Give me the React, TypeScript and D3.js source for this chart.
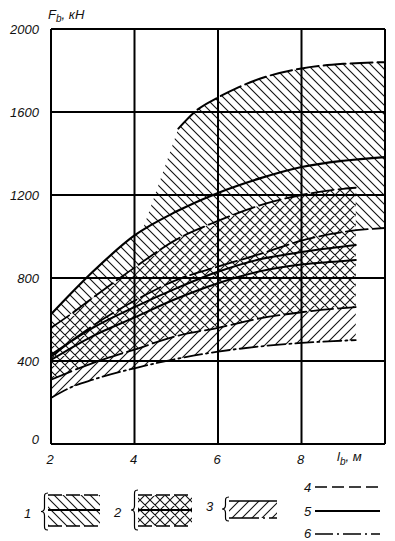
import * as d3 from "d3";

type P = [number, number];

// axis ticks
const xTicks = [2, 4, 6, 8, 10];
const xTickLabels = ["2", "4", "6", "8", ""];
const yTicks = [0, 400, 800, 1200, 1600, 2000];
const yTickLabels = ["0", "400", "800", "1200", "1600", "2000"];

// zone 1 (\\\ hatch): upper bound, mean, lower bound
const z1Upper: P[] = [[5.05, 1520], [5.5, 1610], [6, 1670], [6.5, 1720], [7, 1760], [8, 1810], [9, 1832], [10, 1840]];
const z1Mean: P[] = [[2, 625], [3, 830], [4, 1005], [5, 1120], [6, 1210], [7, 1280], [8, 1335], [9, 1365], [10, 1383]];
const z1Lower: P[] = [[2, 420], [3, 570], [4, 690], [5, 790], [6, 855], [7, 915], [8, 980], [9, 1022], [10, 1041]];
// left end of the hatching above the mean line
const z1Edge: P[] = [[2, 625], [3, 830], [4, 1005], [4.2, 1035]];

// zone 2 (cross hatch)
const z2Upper: P[] = [[2, 560], [2.4, 615], [3, 705], [4, 850], [5, 985], [6, 1075], [7, 1150], [8, 1200], [9, 1230], [9.3, 1235]];
const z2Mean: P[] = [[2, 430], [3, 560], [4, 660], [5, 750], [6, 830], [7, 890], [8, 925], [9, 952], [9.3, 959]];
const z2Lower: P[] = [[2, 310], [3, 390], [4, 455], [5, 520], [6, 560], [7, 605], [8, 635], [9, 655], [9.3, 660]];

// zone 3 (/// hatch)
const z3Mean: P[] = [[2, 405], [3, 520], [4, 610], [5, 700], [6, 775], [7, 832], [8, 865], [9, 882], [9.3, 887]];
const z3Lower: P[] = [[2, 222], [2.5, 275], [3, 310], [4, 365], [5, 410], [6, 445], [7, 470], [8, 487], [9, 498], [9.3, 501]];

const W = 395;
const H = 541;
const x = d3.scaleLinear().domain([2, 10]).range([51, 385]);
const y = d3.scaleLinear().domain([0, 2000]).range([444, 29]);

const line = d3
  .line<P>()
  .x((d) => x(d[0]))
  .y((d) => y(d[1]))
  .curve(d3.curveMonotoneX);

const cont = (pts: P[]) => (line(pts) ?? "").replace(/^M/, "L");
const rev = (pts: P[]) => [...pts].reverse();

const DASH = "22,5";
const DASHDOT = "18,4,2,4";
const font = "'Liberation Sans', Arial, sans-serif";

function band(top: P[], bottom: P[]) {
  return (line(top) ?? "") + cont(rev(bottom)) + "Z";
}

// curly brace, tip at x0, from top to bottom
function brace(x0: number, top: number, bottom: number) {
  const m = (top + bottom) / 2;
  return (
    `M${x0 + 7},${top} C${x0 + 3},${top} ${x0 + 3.5},${top + 2} ${x0 + 3.5},${top + 6} ` +
    `L${x0 + 3.5},${m - 4} C${x0 + 3.5},${m - 1} ${x0 + 1.5},${m} ${x0},${m} ` +
    `C${x0 + 1.5},${m} ${x0 + 3.5},${m + 1} ${x0 + 3.5},${m + 4} ` +
    `L${x0 + 3.5},${bottom - 6} C${x0 + 3.5},${bottom - 2} ${x0 + 3},${bottom} ${x0 + 7},${bottom}`
  );
}

export default function App() {
  const zone1 =
    (line(z1Edge) ?? "") + cont(z1Upper) + cont(rev(z1Lower)) + "Z";
  const zone2 = band(z2Upper, z2Lower);
  const zone3 = band(z2Lower, z3Lower);

  const curves: { pts: P[]; dash?: string; w: number }[] = [
    { pts: z1Upper, dash: DASH, w: 2 },
    { pts: z1Mean, w: 2.2 },
    { pts: z1Lower, dash: DASH, w: 1.8 },
    { pts: z2Upper, dash: DASH, w: 1.8 },
    { pts: z2Mean, w: 2 },
    { pts: z3Mean, w: 2 },
    { pts: z2Lower, dash: DASH, w: 1.8 },
    { pts: z3Lower, dash: DASHDOT, w: 1.8 },
  ];

  const txt = { fontFamily: font, fontStyle: "italic", fontSize: 13, fill: "#111" } as const;

  return (
    <svg
      width={W}
      height={H}
      viewBox={`0 0 ${W} ${H}`}
      style={{ position: "absolute", left: 0, top: 0, background: "#fff" }}
    >
      <defs>
        <pattern id="back" patternUnits="userSpaceOnUse" width={9} height={9}>
          <path d="M-1,-1L10,10M-1,8L1,10M8,-1L10,1" stroke="#111" strokeWidth={1.1} />
        </pattern>
        <pattern id="fwd" patternUnits="userSpaceOnUse" width={10} height={10}>
          <path d="M-1,11L11,-1M-1,1L1,-1M9,11L11,9" stroke="#111" strokeWidth={1.1} />
        </pattern>
        <pattern id="cross" patternUnits="userSpaceOnUse" width={10} height={10}>
          <path d="M-1,-1L11,11M-1,9L1,11M9,-1L11,1M-1,11L11,-1M-1,1L1,-1M9,11L11,9" stroke="#111" strokeWidth={1.1} />
        </pattern>
        <clipPath id="plot">
          <rect x={x(2)} y={y(2000)} width={x(10) - x(2)} height={y(0) - y(2000)} />
        </clipPath>
      </defs>

      <g clipPath="url(#plot)">
        <path d={zone1} fill="url(#back)" />
        <path d={zone3} fill="url(#fwd)" />
        <path d={zone2} fill="#fff" />
        <path d={zone2} fill="url(#cross)" />
      </g>

      {/* grid */}
      {xTicks.map((t) => (
        <line key={"gx" + t} x1={x(t)} x2={x(t)} y1={y(2000)} y2={y(0)} stroke="#000" strokeWidth={2} />
      ))}
      {yTicks.map((t) => (
        <line key={"gy" + t} x1={x(2)} x2={x(10)} y1={y(t)} y2={y(t)} stroke="#000" strokeWidth={2} />
      ))}

      <g clipPath="url(#plot)" fill="none" stroke="#000" strokeLinecap="round">
        {curves.map((c, i) => (
          <path key={i} d={line(c.pts) ?? ""} strokeWidth={c.w} strokeDasharray={c.dash} />
        ))}
      </g>

      {/* tick labels */}
      {yTicks.map((t, i) => (
        <text key={"ly" + t} {...txt} x={39} y={y(t) + (t === 0 ? 0 : 5)} textAnchor="end">
          {yTickLabels[i]}
        </text>
      ))}
      {xTicks.map((t, i) => (
        <text key={"lx" + t} {...txt} x={x(t) - 1} y={464} textAnchor="middle">
          {xTickLabels[i]}
        </text>
      ))}

      {/* axis titles */}
      <text {...txt} x={48} y={19}>
        F<tspan dy={3} fontSize={10}>b</tspan>
        <tspan dy={-3}>, кН</tspan>
      </text>
      <text {...txt} x={337} y={461}>
        l<tspan dy={4} fontSize={10}>b</tspan>
        <tspan dy={-4}>, м</tspan>
      </text>

      {/* legend */}
      <g>
        <text {...txt} x={24} y={518}>1</text>
        <path d={brace(41, 493, 530)} fill="none" stroke="#000" strokeWidth={1.2} />
        <rect x={48} y={495} width={52} height={31} fill="url(#back)" />
        <line x1={48} x2={100} y1={495} y2={495} stroke="#000" strokeWidth={1.5} strokeDasharray="14,4" />
        <line x1={48} x2={100} y1={510} y2={510} stroke="#000" strokeWidth={1.8} />
        <line x1={48} x2={100} y1={526} y2={526} stroke="#000" strokeWidth={1.5} strokeDasharray="14,4" />

        <text {...txt} x={114} y={517}>2</text>
        <path d={brace(131, 490, 530)} fill="none" stroke="#000" strokeWidth={1.2} />
        <rect x={138} y={495} width={54} height={31} fill="#fff" />
        <rect x={138} y={495} width={54} height={31} fill="url(#cross)" />
        <line x1={138} x2={192} y1={495} y2={495} stroke="#000" strokeWidth={1.5} strokeDasharray="14,4" />
        <line x1={138} x2={192} y1={510} y2={510} stroke="#000" strokeWidth={1.8} />
        <line x1={138} x2={192} y1={526} y2={526} stroke="#000" strokeWidth={1.5} strokeDasharray="14,4" />

        <text {...txt} x={206} y={511}>3</text>
        <path d={brace(222, 497, 521)} fill="none" stroke="#000" strokeWidth={1.2} />
        <rect x={229} y={501} width={48} height={17} fill="url(#fwd)" />
        <line x1={229} x2={277} y1={501} y2={501} stroke="#000" strokeWidth={1.5} />
        <line x1={229} x2={277} y1={518} y2={518} stroke="#000" strokeWidth={1.5} strokeDasharray="30,4,2,4" />

        <text {...txt} x={304} y={492}>4</text>
        <line x1={315} x2={380} y1={487} y2={487} stroke="#000" strokeWidth={1.5} strokeDasharray="12,5" />
        <text {...txt} x={304} y={516}>5</text>
        <line x1={315} x2={380} y1={511} y2={511} stroke="#000" strokeWidth={1.8} />
        <text {...txt} x={304} y={538}>6</text>
        <line x1={315} x2={380} y1={534} y2={534} stroke="#000" strokeWidth={1.5} strokeDasharray={DASHDOT} />
      </g>
    </svg>
  );
}
